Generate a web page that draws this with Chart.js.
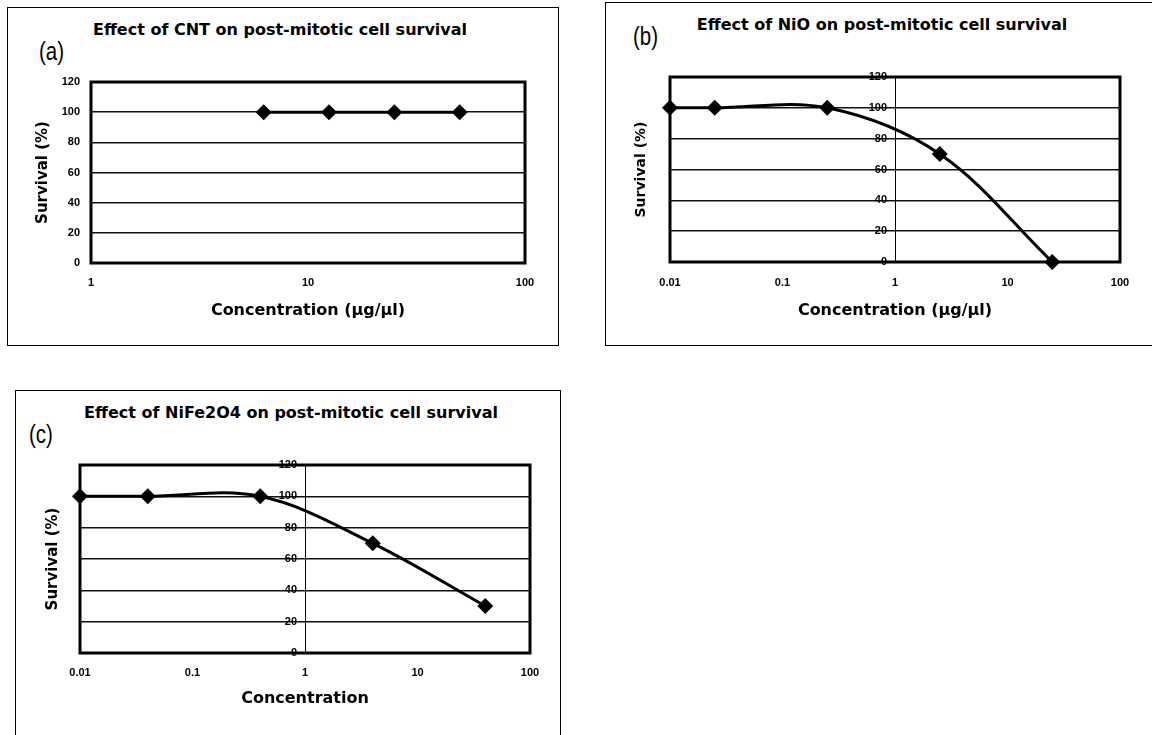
<!DOCTYPE html>
<html><head><meta charset="utf-8">
<script src="https://cdn.jsdelivr.net/npm/chart.js@4.4.1/dist/chart.umd.min.js"></script>
<style>
html,body{margin:0;padding:0;background:#fff;}
body{width:1152px;height:735px;overflow:hidden;position:relative;}
.box{position:absolute;border:1px solid #000;}
canvas{position:absolute;}
.title{position:absolute;width:600px;text-align:center;font-family:"DejaVu Sans",sans-serif;font-weight:bold;font-size:16px;line-height:20px;color:#000;white-space:nowrap;}
.tag{position:absolute;font-family:"Liberation Sans",sans-serif;font-size:25px;line-height:24px;color:#000;white-space:nowrap;transform:scaleX(0.82);transform-origin:left top;}
</style></head><body>
<div class="box" style="left:7px;top:7px;width:550px;height:337px"></div>
<div class="box" style="left:605px;top:2px;width:600px;height:342px"></div>
<div class="box" style="left:15px;top:390px;width:544px;height:400px"></div>

<div class="title" style="left:-20px;top:20px">Effect of CNT on post-mitotic cell survival</div>
<div class="title" style="left:582px;top:15px">Effect of NiO on post-mitotic cell survival</div>
<div class="title" style="left:-9px;top:403px">Effect of NiFe2O4 on post-mitotic cell survival</div>
<div class="tag" style="left:39px;top:39px">(a)</div>
<div class="tag" style="left:633px;top:24px">(b)</div>
<div class="tag" style="left:29px;top:422px">(c)</div>

<canvas id="cA" width="551" height="337" style="left:7px;top:7px"></canvas>
<canvas id="cB" width="547" height="343" style="left:605px;top:2px"></canvas>
<canvas id="cC" width="545" height="345" style="left:15px;top:390px"></canvas>

<script>
// ---- data ----
const cntConc = [6.25, 12.5, 25, 50];
const cntSurvival = [100, 100, 100, 100];
const nioConc = [0.01, 0.025, 0.25, 2.5, 25];
const nioSurvival = [100, 100, 100, 70, 0];
const nifeConc = [0.01, 0.04, 0.4, 4, 40];
const nifeSurvival = [100, 100, 100, 70, 30];

const xTicksA = [1, 10, 100];
const xTickLabelsA = ['1', '10', '100'];
const xTicksBC = [0.01, 0.1, 1, 10, 100];
const xTickLabelsBC = ['0.01', '0.1', '1', '10', '100'];
const yTicks = [0, 20, 40, 60, 80, 100, 120];
const yTickLabels = ['0', '20', '40', '60', '80', '100', '120'];

const yTitle = 'Survival (%)';
const xTitleUnit = 'Concentration (μg/μl)';
const xTitlePlain = 'Concentration';

// ---- rendering ----
const frame = {
  id: 'frame',
  beforeDatasetsDraw(chart) {
    const {ctx, chartArea: {left, top, right, bottom}} = chart;
    ctx.save();
    ctx.strokeStyle = '#000';
    ctx.lineWidth = 3;
    ctx.strokeRect(left, top, right - left, bottom - top);
    ctx.restore();
  }
};

const tickFont = {family: 'Liberation Sans', size: 11, weight: 'bold'};

function makeChart(id, conc, surv, o) {
  const scales = {};
  scales.x = {
    type: 'logarithmic', min: o.xt[0], max: o.xt[o.xt.length - 1],
    afterBuildTicks: s => { s.ticks = o.xt.map(v => ({value: v})); },
    ticks: {autoSkip: false, maxRotation: 0, minRotation: 0, padding: o.xTickPad, color: '#000', font: tickFont,
            callback: (v, i) => o.xl[i]},
    grid: {display: o.x1Line, drawTicks: false, lineWidth: 1,
           color: c => (c.tick && Math.abs(c.tick.value - 1) < 1e-9) ? '#000' : 'rgba(0,0,0,0)'},
    border: {display: false},
    title: {display: true, text: o.xTitle, color: '#000',
            font: {family: 'DejaVu Sans', size: 16, weight: 'bold'}, padding: {top: 0, bottom: o.xTitlePad}},
    afterFit: s => { s.height = o.xH; }
  };
  const yBase = {
    type: 'linear', min: yTicks[0], max: yTicks[yTicks.length - 1],
    afterBuildTicks: s => { s.ticks = yTicks.map(v => ({value: v})); },
    ticks: {color: '#000', font: tickFont, padding: 11, callback: (v, i) => yTickLabels[i]},
    grid: {drawTicks: false, color: '#111', lineWidth: 1.5},
    border: {display: false}
  };
  const yTitleOpt = {display: true, text: yTitle, color: '#000',
    font: {family: 'DejaVu Sans', size: o.yTitleSize, weight: 'bold'}, padding: {top: o.yTitlePad, bottom: 0}};
  if (o.yAtOne) {
    scales.yt = {type: 'linear', position: 'left', min: 0, max: 120,
      ticks: {display: false}, grid: {display: false}, border: {display: false},
      title: yTitleOpt, afterFit: s => { s.width = o.yW; }};
    scales.y = Object.assign({}, yBase, {position: {x: o.yLabelAt}});
  } else {
    scales.y = Object.assign({}, yBase, {position: 'left', title: yTitleOpt, afterFit: s => { s.width = o.yW; }});
  }
  return new Chart(document.getElementById(id), {
    type: 'line',
    data: {datasets: [{
      data: conc.map((c, i) => ({x: c, y: surv[i]})),
      xAxisID: 'x', yAxisID: 'y',
      borderColor: '#000', borderWidth: 3, tension: 0.35,
      pointStyle: 'rectRot', pointRadius: 8, pointHoverRadius: 8,
      pointBackgroundColor: '#000', pointBorderColor: '#000', pointBorderWidth: 0,
      clip: false
    }]},
    options: {
      responsive: false, animation: false, events: [],
      layout: {padding: {top: 75, right: o.padR, left: 0, bottom: 0}},
      plugins: {legend: {display: false}, tooltip: {enabled: false}, title: {display: false}},
      scales
    },
    plugins: [frame]
  });
}

makeChart('cA', cntConc, cntSurvival, {
  xt: xTicksA, xl: xTickLabelsA, xTickPad: 13, x1Line: false, xTitle: xTitleUnit, xTitlePad: 24, xH: 81,
  yAtOne: false, yW: 84, yTitleSize: 15, yTitlePad: 27, padR: 33
});
makeChart('cB', nioConc, nioSurvival, {
  xt: xTicksBC, xl: xTickLabelsBC, xTickPad: 14, x1Line: true, xTitle: xTitleUnit, xTitlePad: 25, xH: 83,
  yAtOne: true, yLabelAt: 0.849, yW: 65, yTitleSize: 14, yTitlePad: 28, padR: 32
});
makeChart('cC', nifeConc, nifeSurvival, {
  xt: xTicksBC, xl: xTickLabelsBC, xTickPad: 13, x1Line: true, xTitle: xTitlePlain, xTitlePad: 27, xH: 82,
  yAtOne: true, yLabelAt: 0.849, yW: 65, yTitleSize: 15, yTitlePad: 29, padR: 30
});
</script>
</body></html>
